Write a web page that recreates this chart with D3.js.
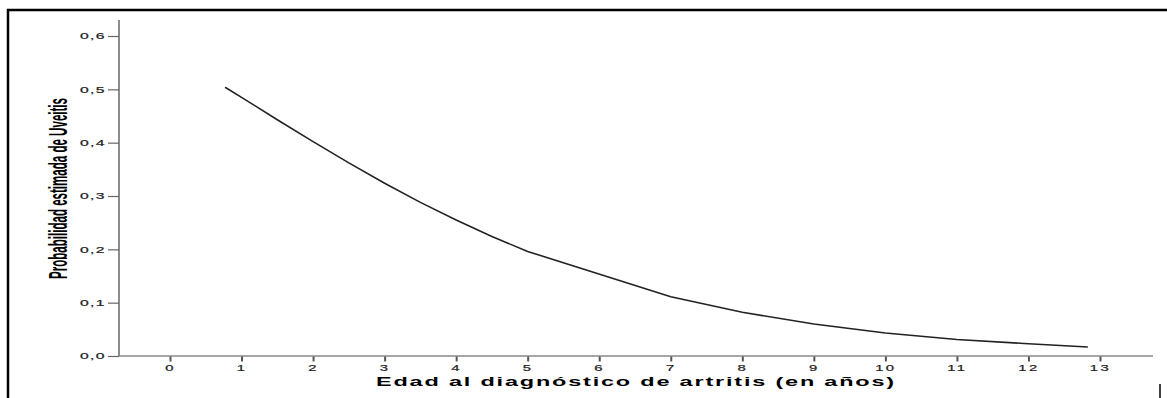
<!DOCTYPE html>
<html>
<head>
<meta charset="utf-8">
<script src="https://cdn.jsdelivr.net/npm/d3@7/dist/d3.min.js"></script>
<style>
  body { margin: 0; background: #fff; }
  svg { display: block; }
</style>
</head>
<body>
<div id="chart"></div>
<script>
// estimated probability curve
let ages  = [0.77, 1, 1.5, 2, 2.5, 3, 3.5, 4, 4.5, 5, 7, 8, 9, 10, 11, 12, 12.83];
let probs = [0.504, 0.485, 0.443, 0.402, 0.362, 0.324, 0.288, 0.255, 0.224, 0.196,
             0.111, 0.082, 0.060, 0.043, 0.031, 0.023, 0.017];

let xTicks = [0, 1, 2, 3, 4, 5, 6, 7, 8, 9, 10, 11, 12, 13];
let yTicks = [0, 0.1, 0.2, 0.3, 0.4, 0.5, 0.6];

let xTitle = "Edad al diagnóstico de artritis (en años)";
let yTitle = "Probabilidad estimada de Uveitis";

let width = 1167, height = 398;
let plotLeft = 119, plotRight = 1153, plotTop = 20, plotBottom = 356;

let xScale = d3.scaleLinear().domain([-0.713, 13.741]).range([plotLeft, plotRight]);
let yScale = d3.scaleLinear().domain([0, 0.63]).range([plotBottom, plotTop]);

let comma = d3.formatLocale({decimal: ",", thousands: ".", grouping: [3], currency: ["", ""]});
let fmt = comma.format(".1f");

let svg = d3.select("#chart").append("svg")
  .attr("width", width)
  .attr("height", height);

// frame of the figure
svg.append("line").attr("x1", 7).attr("x2", width).attr("y1", 10).attr("y2", 10)
  .attr("stroke", "#000").attr("stroke-width", 2.5);
svg.append("line").attr("x1", 8).attr("x2", 8).attr("y1", 9).attr("y2", height)
  .attr("stroke", "#000").attr("stroke-width", 2.5);
svg.append("line").attr("x1", 1160).attr("x2", 1160).attr("y1", 384).attr("y2", height)
  .attr("stroke", "#000").attr("stroke-width", 1.5);

// axis lines
svg.append("line").attr("x1", plotLeft).attr("x2", plotLeft).attr("y1", plotTop).attr("y2", plotBottom)
  .attr("stroke", "#666").attr("stroke-width", 1.5);
svg.append("line").attr("x1", plotLeft).attr("x2", plotRight).attr("y1", plotBottom).attr("y2", plotBottom)
  .attr("stroke", "#888").attr("stroke-width", 1.5);

// x axis
let gx = svg.append("g")
  .attr("transform", "translate(0," + (plotBottom + 0.5) + ")")
  .call(d3.axisBottom(xScale).tickValues(xTicks).tickSize(5).tickPadding(3));
gx.select(".domain").remove();
gx.selectAll(".tick line").attr("stroke", "#555").attr("stroke-width", 2);
gx.selectAll(".tick text")
  .attr("font-family", "'Liberation Sans', Arial, sans-serif")
  .attr("font-size", 9)
  .attr("letter-spacing", 1.5)
  .attr("fill", "#222")
  .attr("stroke", "#222")
  .attr("stroke-width", 0.2)
  .attr("transform", "scale(1.65,1)");

// y axis
let gy = svg.append("g")
  .attr("transform", "translate(" + plotLeft + ",0)")
  .call(d3.axisLeft(yScale).tickValues(yTicks).tickFormat(fmt).tickSize(11).tickPadding(3));
gy.select(".domain").remove();
gy.selectAll(".tick line").attr("stroke", "#666").attr("stroke-width", 1.2);
gy.selectAll(".tick text")
  .attr("font-family", "'Liberation Sans', Arial, sans-serif")
  .attr("font-size", 9)
  .attr("letter-spacing", 0.8)
  .attr("fill", "#222")
  .attr("stroke", "#222")
  .attr("stroke-width", 0.2)
  .attr("x", -13 / 1.75)
  .attr("transform", "scale(1.75,1)");

// curve
let line = d3.line()
  .x((d, i) => xScale(ages[i]))
  .y(d => yScale(d));

svg.append("path")
  .datum(probs)
  .attr("d", line)
  .attr("fill", "none")
  .attr("stroke", "#222")
  .attr("stroke-width", 1.6);

// titles: stretched/squeezed to the width seen in the picture
function fitText(sel, len) {
  let w = sel.node().getComputedTextLength();
  sel.attr("transform", (sel.attr("transform") || "") + " scale(" + (len / w) + ",1)");
}

let xt = svg.append("text")
  .attr("transform", "translate(636,386)")
  .attr("text-anchor", "middle")
  .attr("font-family", "'Liberation Sans', Arial, sans-serif")
  .attr("font-weight", "bold")
  .attr("font-size", 13)
  .attr("letter-spacing", 1)
  .attr("fill", "#000")
  .text(xTitle);
fitText(xt, 520);

let yt = svg.append("text")
  .attr("transform", "translate(67,188.5) rotate(-90)")
  .attr("text-anchor", "middle")
  .attr("font-family", "'Liberation Sans Narrow', 'Arial Narrow', 'Liberation Sans', sans-serif")
  .attr("font-weight", "bold")
  .attr("font-size", 25)
  .attr("fill", "#000")
  .text(yTitle);
fitText(yt, 181);
</script>
</body>
</html>
